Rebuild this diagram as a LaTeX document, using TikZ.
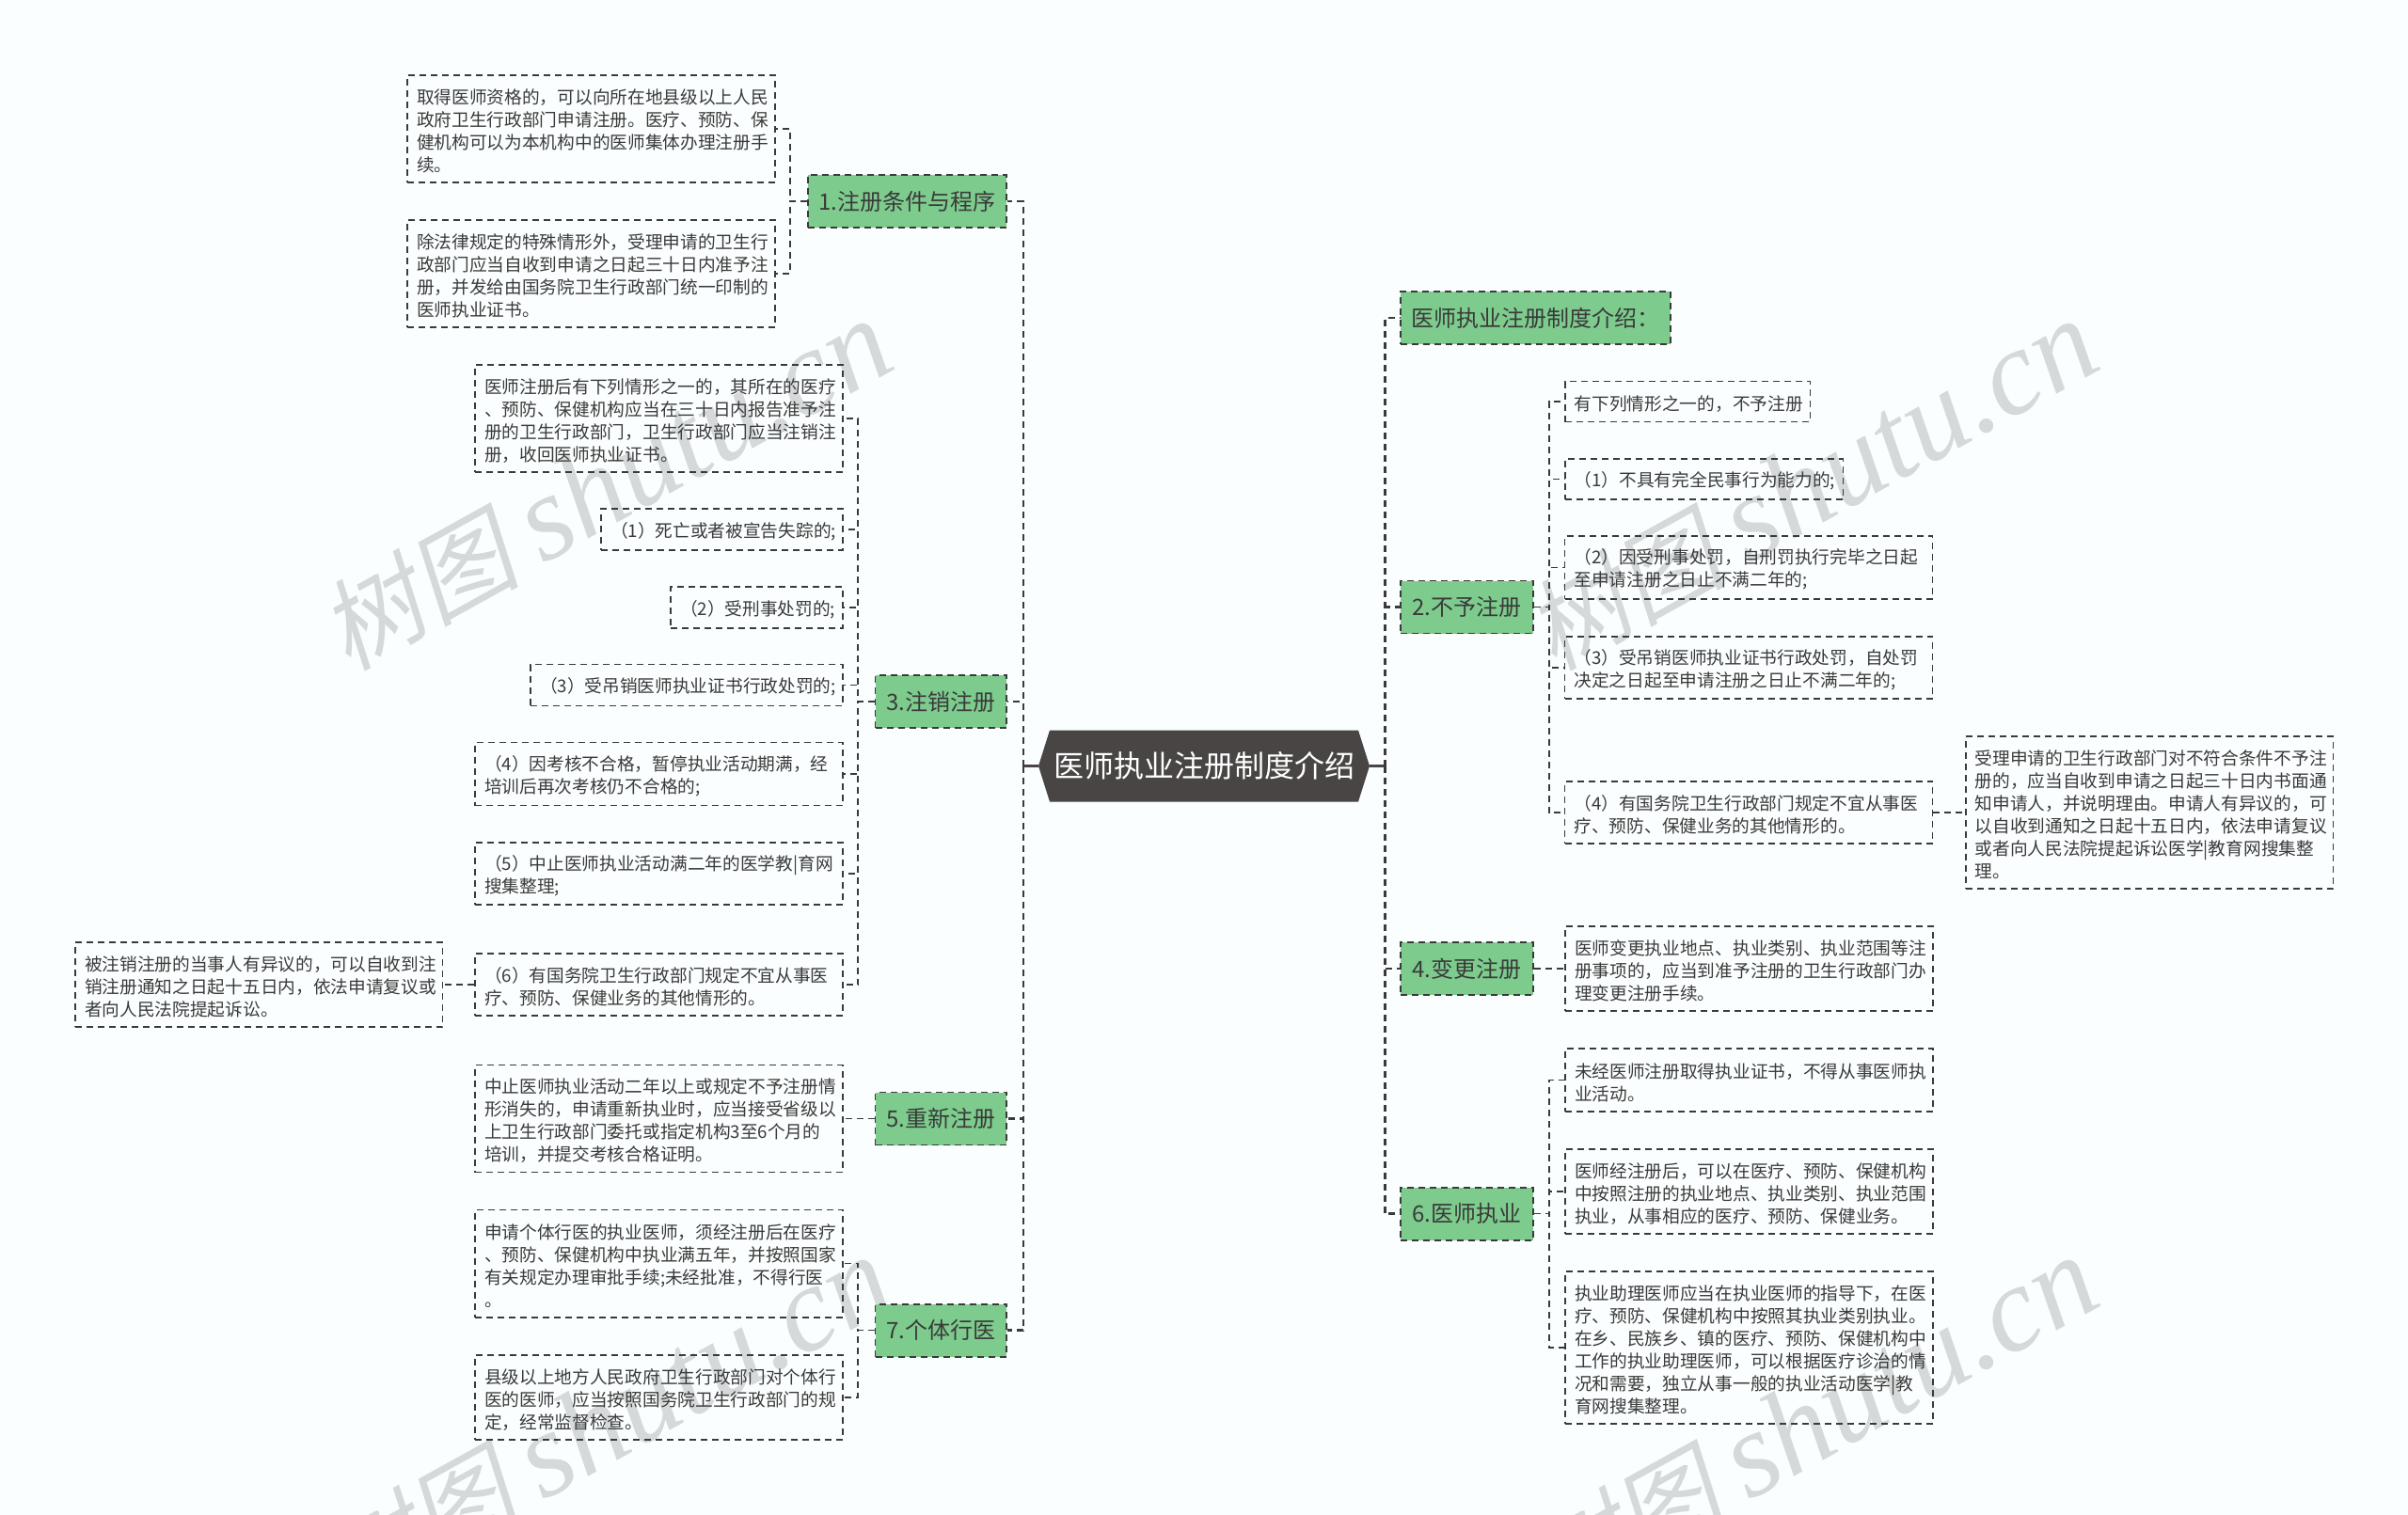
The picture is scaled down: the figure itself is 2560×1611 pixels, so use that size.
\documentclass[tikz,border=0pt]{standalone}
\usepackage{fontspec}
\usepackage{tikz}
\usetikzlibrary{shapes,shapes.misc}
\setmainfont{Noto Sans CJK SC}
\newfontfamily\markcjk[FakeSlant=0.2]{Noto Sans CJK SC}
\newfontfamily\marklatin{Liberation Serif}
\definecolor{inkdark}{HTML}{3A3A3A}
\definecolor{rootgray}{HTML}{4A4545}
\definecolor{leafgreen}{HTML}{7DCB8D}
\definecolor{markgray}{HTML}{D5D9D9}
\definecolor{paper}{HTML}{FBFEFE}

\begin{document}
\begin{tikzpicture}[x=1pt, y=-1pt, line join=miter,
        every node/.append style={inner sep=0pt, text=inkdark}]
      \tikzstyle{topic} = [shape=signal, signal to=west and east, signal pointer angle=145,
        fill=rootgray, minimum width=352pt, minimum height=76pt, font=\fontsize{32}{38}\selectfont, text=white]
      \tikzstyle{branch} = [draw=inkdark, fill=leafgreen, dash pattern=on 7pt off 5pt, line width=1.8pt,
        minimum height=56pt, font=\fontsize{24}{30}\selectfont]
      \tikzstyle{leaf} = [draw=inkdark, dash pattern=on 7pt off 5pt, line width=1.5pt, align=left,
        inner xsep=10pt, font=\fontsize{18.7}{24}\selectfont, execute at begin node={\rule{0pt}{20.5pt}}]
      \tikzstyle{link} = [draw=inkdark, dash pattern=on 7pt off 5pt, line width=1.5pt]
      \tikzstyle{trunk} = [draw=inkdark, dash pattern=on 7pt off 5pt, line width=2.6pt]
      \tikzstyle{stub} = [draw=rootgray, line width=3pt]
      \useasboundingbox (0,0) rectangle (2560,1611);
      \fill[paper] (0,0) rectangle (2560,1611);
      \foreach \i/\x/\y in {1/644/517, 2/1926/517, 3/644/1513, 4/1926/1513}
        \node (mark\i) [rotate=29, text=markgray] at (\x,\y)
          {\fontsize{106}{130}\selectfont\markcjk 树图\hspace{24pt}\fontsize{129}{130}\selectfont\marklatin\itshape shutu.cn};

      \node (ROOT) [topic] at (1280,814.5) {医师执业注册制度介绍};

      \node (reg) [branch, minimum width=211pt] at (964.5,214) {1.注册条件与程序};
      \node (cancel) [branch, minimum width=139.5pt] at (1000.25,746) {3.注销注册};
      \node (renew) [branch, minimum width=139.5pt] at (1000.25,1189.5) {5.重新注册};
      \node (solo) [branch, minimum width=139.5pt] at (1000.25,1414.6) {7.个体行医};
      \node (intro) [branch, minimum width=287pt] at (1632.5,338) {医师执业注册制度介绍：};
      \node (deny) [branch, minimum width=141pt] at (1559.5,645.5) {2.不予注册};
      \node (change) [branch, minimum width=141pt] at (1559.5,1030) {4.变更注册};
      \node (practice) [branch, minimum width=141pt] at (1559.5,1290.7) {6.医师执业};

      \node (reg1) [leaf, text width=371pt, minimum height=114pt] at (628.5,137)
        {取得医师资格的，可以向所在地县级以上人民\\政府卫生行政部门申请注册。医疗、预防、保\\健机构可以为本机构中的医师集体办理注册手\\续。};
      \node (reg2) [leaf, text width=371pt, minimum height=114pt] at (628.5,291)
        {除法律规定的特殊情形外，受理申请的卫生行\\政部门应当自收到申请之日起三十日内准予注\\册，并发给由国务院卫生行政部门统一印制的\\医师执业证书。};

      \node (cancel0) [leaf, text width=371pt, minimum height=114pt] at (700.5,445)
        {医师注册后有下列情形之一的，其所在的医疗\\、预防、保健机构应当在三十日内报告准予注\\册的卫生行政部门，卫生行政部门应当注销注\\册，收回医师执业证书。};
      \node (cancel1) [leaf, text width=237pt, minimum height=44pt] at (767.5,563) {（1）死亡或者被宣告失踪的;};
      \node (cancel2) [leaf, text width=163pt, minimum height=44pt] at (804.5,646) {（2）受刑事处罚的;};
      \node (cancel3) [leaf, text width=312pt, minimum height=44pt] at (730,728.5) {（3）受吊销医师执业证书行政处罚的;};
      \node (cancel4) [leaf, text width=371pt, minimum height=67pt] at (700.5,823)
        {（4）因考核不合格，暂停执业活动期满，经\\培训后再次考核仍不合格的;};
      \node (cancel5) [leaf, text width=371pt, minimum height=66pt] at (700.5,929)
        {（5）中止医师执业活动满二年的医学教|育网\\搜集整理;};
      \node (cancel6) [leaf, text width=371pt, minimum height=66pt] at (700.5,1047)
        {（6）有国务院卫生行政部门规定不宜从事医\\疗、预防、保健业务的其他情形的。};
      \node (appeal) [leaf, text width=370.5pt, minimum height=90pt] at (275.25,1047)
        {被注销注册的当事人有异议的，可以自收到注\\销注册通知之日起十五日内，依法申请复议或\\者向人民法院提起诉讼。};

      \node (renew1) [leaf, text width=371pt, minimum height=114pt] at (700.5,1189.5)
        {中止医师执业活动二年以上或规定不予注册情\\形消失的，申请重新执业时，应当接受省级以\\上卫生行政部门委托或指定机构3至6个月的\\培训，并提交考核合格证明。};

      \node (solo1) [leaf, text width=371pt, minimum height=114.5pt] at (700.5,1343.5)
        {申请个体行医的执业医师，须经注册后在医疗\\、预防、保健机构中执业满五年，并按照国家\\有关规定办理审批手续;未经批准，不得行医\\。};
      \node (solo2) [leaf, text width=371pt, minimum height=90pt] at (700.5,1485.8)
        {县级以上地方人民政府卫生行政部门对个体行\\医的医师，应当按照国务院卫生行政部门的规\\定，经常监督检查。};

      \node (deny0) [leaf, text width=240.5pt, minimum height=43pt] at (1794,427) {有下列情形之一的，不予注册};
      \node (deny1) [leaf, text width=275.5pt, minimum height=43pt] at (1811.5,509.5) {（1）不具有完全民事行为能力的;};
      \node (deny2) [leaf, text width=371pt, minimum height=67pt] at (1859,603.5)
        {（2）因受刑事处罚，自刑罚执行完毕之日起\\至申请注册之日止不满二年的;};
      \node (deny3) [leaf, text width=371pt, minimum height=66pt] at (1859,710)
        {（3）受吊销医师执业证书行政处罚，自处罚\\决定之日起至申请注册之日止不满二年的;};
      \node (deny4) [leaf, text width=371pt, minimum height=66pt] at (1859,864)
        {（4）有国务院卫生行政部门规定不宜从事医\\疗、预防、保健业务的其他情形的。};
      \node (review) [leaf, text width=370.5pt, minimum height=162pt] at (2285,864)
        {受理申请的卫生行政部门对不符合条件不予注\\册的，应当自收到申请之日起三十日内书面通\\知申请人，并说明理由。申请人有异议的，可\\以自收到通知之日起十五日内，依法申请复议\\或者向人民法院提起诉讼医学|教育网搜集整\\理。};

      \node (change1) [leaf, text width=371pt, minimum height=90pt] at (1859.5,1030)
        {医师变更执业地点、执业类别、执业范围等注\\册事项的，应当到准予注册的卫生行政部门办\\理变更注册手续。};

      \node (practice1) [leaf, text width=371pt, minimum height=67pt] at (1859.5,1148.5)
        {未经医师注册取得执业证书，不得从事医师执\\业活动。};
      \node (practice2) [leaf, text width=371pt, minimum height=90pt] at (1859.5,1266.8)
        {医师经注册后，可以在医疗、预防、保健机构\\中按照注册的执业地点、执业类别、执业范围\\执业，从事相应的医疗、预防、保健业务。};
      \node (practice3) [leaf, text width=371pt, minimum height=162pt] at (1859.5,1433)
        {执业助理医师应当在执业医师的指导下，在医\\疗、预防、保健机构中按照其执业类别执业。\\在乡、民族乡、镇的医疗、预防、保健机构中\\工作的执业助理医师，可以根据医疗诊治的情\\况和需要，独立从事一般的执业活动医学|教\\育网搜集整理。};

      \draw[stub] (ROOT.west) -- ++(-16,0) coordinate (hubL);
      \draw[stub] (ROOT.east) -- ++(16,0) coordinate (hubR);
      \foreach \kid in {reg,cancel,renew,solo}
        \draw[trunk] (hubL) |- (\kid.east);
      \foreach \kid in {intro,deny,change,practice}
        \draw[trunk] (hubR) |- (\kid.west);

      \foreach \kid in {reg1,reg2}
        \draw[link] (reg.west) -- ++(-18,0) |- (\kid.east);
      \foreach \kid in {cancel0,cancel1,cancel2,cancel3,cancel4,cancel5,cancel6}
        \draw[link] (cancel.west) -- ++(-17.5,0) |- (\kid.east);
      \foreach \kid in {solo1,solo2}
        \draw[link] (solo.west) -- ++(-17.5,0) |- (\kid.east);
      \foreach \kid in {deny0,deny1,deny2,deny3,deny4}
        \draw[link] (deny.east) -- ++(16,0) |- (\kid.west);
      \foreach \kid in {practice1,practice2,practice3}
        \draw[link] (practice.east) -- ++(16,0) |- (\kid.west);
      \draw[link] (cancel6.west) -- (appeal.east);
      \draw[link] (renew.west) -- (renew1.east);
      \draw[link] (deny4.east) -- (review.west);
      \draw[link] (change.east) -- (change1.west);
    \end{tikzpicture}
\end{document}
